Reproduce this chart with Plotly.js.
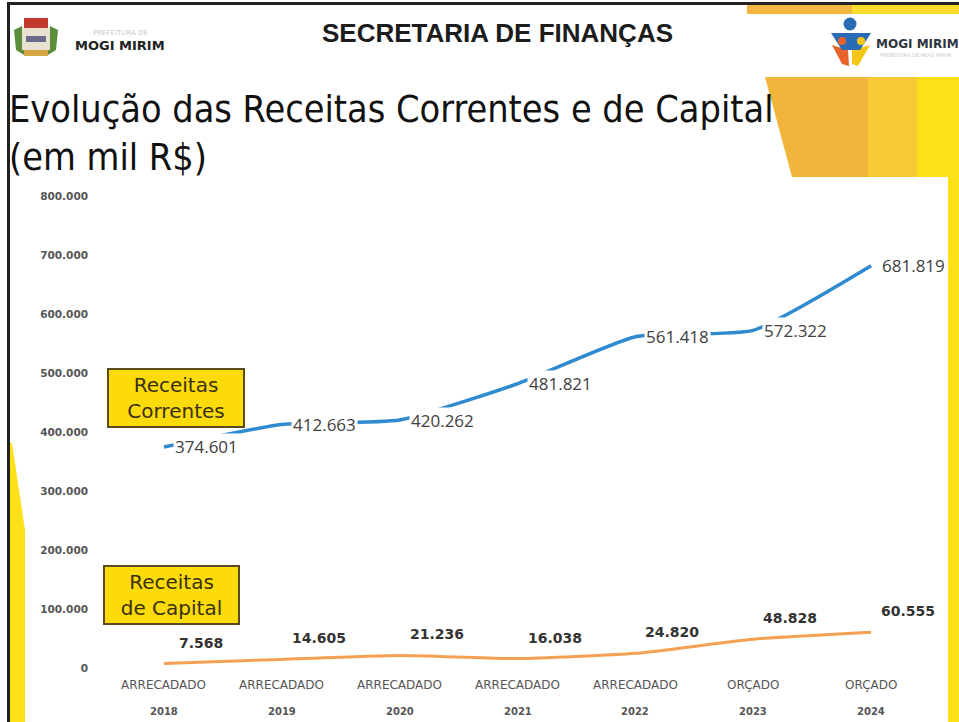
<!DOCTYPE html>
<html>
<head>
<meta charset="utf-8">
<script src="https://cdn.plot.ly/plotly-3.0.1.min.js"></script>
<style>html,body{margin:0;padding:0;background:#fff;}#chart{width:959px;height:722px;}</style>
</head>
<body>
<div id="chart"></div>
<script>
// ---- DATA ----
const categories = ['2018', '2019', '2020', '2021', '2022', '2023', '2024'];
const status = ['ARRECADADO', 'ARRECADADO', 'ARRECADADO', 'ARRECADADO', 'ARRECADADO', 'ORÇADO', 'ORÇADO'];
const receitasCorrentes = [374601, 412663, 420262, 481821, 561418, 572322, 681819];
const receitasCapital = [7568, 14605, 21236, 16038, 24820, 48828, 60555];
const yTickVals = [0, 100000, 200000, 300000, 400000, 500000, 600000, 700000, 800000];
const headerTitle = 'SECRETARIA DE FINANÇAS';
const titleLine1 = 'Evolução das Receitas Correntes e de Capital';
const titleLine2 = '(em mil R$)';
const labelCorrentes = 'Receitas<br>Correntes';
const labelCapital = 'Receitas<br>de Capital';

// ---- LAYOUT HELPERS ----
const W = 959, H = 722;
const M = {l: 105, r: 29, t: 196, b: 54};
const PW = W - M.l - M.r, PH = H - M.t - M.b;
const px = x => (x - M.l) / PW;
const py = y => (H - M.b - y) / PH;
const fmt = n => String(n).replace(/\B(?=(\d{3})+(?!\d))/g, '.');

function rect(x0, y0, x1, y1, color, layer) {
  return {type: 'rect', xref: 'paper', yref: 'paper', x0: px(x0), x1: px(x1), y0: py(y0), y1: py(y1),
    fillcolor: color, line: {width: 0}, layer: layer || 'above'};
}
function poly(pts, color) {
  const d = pts.map((p, i) => (i ? 'L' : 'M') + px(p[0]) + ',' + py(p[1])).join(' ') + ' Z';
  return {type: 'path', xref: 'paper', yref: 'paper', path: d, fillcolor: color, line: {width: 0}, layer: 'above'};
}
function circle(cx, cy, r, color) {
  return {type: 'circle', xref: 'paper', yref: 'paper', x0: px(cx - r), x1: px(cx + r), y0: py(cy + r), y1: py(cy - r),
    fillcolor: color, line: {width: 0}, layer: 'above'};
}
function txt(x, y, text, font, xanchor, extra) {
  return Object.assign({xref: 'paper', yref: 'paper', x: px(x), y: py(y), text: text, showarrow: false,
    xanchor: xanchor || 'center', yanchor: 'middle', font: font}, extra || {});
}

const shapes = [
  // frame
  rect(7, 2, 959, 5, '#222'),
  rect(7, 2, 10, 722, '#222'),
  // top bar
  rect(747, 5, 852, 14, '#f3b640'),
  rect(852, 5, 959, 14, '#f9dc2c'),
  // decorative block
  poly([[765, 77], [868, 77], [868, 177], [792, 177]], '#f2b53c'),
  rect(868, 77, 917, 177, '#f7c935'),
  rect(917, 77, 959, 177, '#fde118'),
  rect(948, 177, 959, 722, '#fde118'),
  poly([[10, 443], [12, 443], [25, 530], [25, 722], [10, 722]], '#fde118'),
  // left logo (coat of arms)
  poly([[14, 30], [22, 26], [26, 56], [16, 50]], '#5d8c3a'),
  poly([[58, 30], [50, 26], [46, 56], [56, 50]], '#5d8c3a'),
  rect(24, 18, 48, 28, '#c0392b'),
  rect(22, 28, 50, 50, '#e9e1cf'),
  rect(26, 36, 46, 42, '#6a6a8a'),
  rect(24, 50, 48, 56, '#d2a640'),
  // right logo
  poly([[832, 45], [848, 50], [849, 66], [842, 64]], '#e8632b'),
  poly([[852, 50], [870, 45], [858, 66], [852, 64]], '#f5c518'),
  poly([[831, 33], [871, 33], [860, 50], [842, 50]], '#2a6bb5'),
  circle(850, 24, 6.5, '#2a6bb5'),
  circle(842, 41, 4, '#e8632b'),
  circle(861, 41, 4, '#f5c518')
];

const annotations = [
  txt(497, 33, '<b>' + headerTitle + '</b>', {family: 'Liberation Sans, Arial', size: 26, color: '#1c1c1c'}),
  txt(7, 109, titleLine1, {family: 'DejaVu Sans Condensed, DejaVu Sans', size: 37.5, color: '#111'}, 'left'),
  txt(7, 157, titleLine2, {family: 'DejaVu Sans Condensed, DejaVu Sans', size: 37.5, color: '#111'}, 'left'),
  txt(120, 45, '<b>MOGI MIRIM</b>', {family: 'DejaVu Sans', size: 13, color: '#222'}),
  txt(120, 33, 'PREFEITURA DE', {family: 'DejaVu Sans', size: 7, color: '#c8c8c8'}),
  txt(874, 44, '<b>MOGI MIRIM</b>', {family: 'DejaVu Sans', size: 12, color: '#2d3540'}, 'left'),
  txt(915, 55, 'PREFEITURA DE MOGI MIRIM', {family: 'DejaVu Sans', size: 5, color: '#c8c8c8'}),
  // series label boxes
  txt(176, 398, labelCorrentes, {family: 'DejaVu Sans', size: 20, color: '#3b2f12'}, 'center',
    {bgcolor: '#fcdb08', bordercolor: '#5b4a1c', borderwidth: 2, borderpad: 0, width: 134, height: 56}),
  txt(171.5, 595, labelCapital, {family: 'DejaVu Sans', size: 20, color: '#3b2f12'}, 'center',
    {bgcolor: '#fcdb08', bordercolor: '#5b4a1c', borderwidth: 2, borderpad: 0, width: 133, height: 56})
];

// category labels (two rows) — category axes take serial index positions
categories.forEach((c, i) => {
  annotations.push({xref: 'x', yref: 'paper', x: i, y: py(685), text: status[i], showarrow: false,
    xanchor: 'center', yanchor: 'middle', font: {family: 'DejaVu Sans', size: 12, color: '#555'}});
  annotations.push({xref: 'x', yref: 'paper', x: i, y: py(711), text: '<b>' + c + '</b>', showarrow: false,
    xanchor: 'center', yanchor: 'middle', font: {family: 'DejaVu Sans', size: 10, color: '#555'}});
});
// data labels
categories.forEach((c, i) => {
  annotations.push({xref: 'x', yref: 'y', x: i, y: receitasCorrentes[i], text: fmt(receitasCorrentes[i]),
    showarrow: false, xanchor: 'left', yanchor: 'middle', xshift: 9, bgcolor: '#ffffff', borderpad: 1,
    font: {family: 'Open Sans', size: 17, color: '#404040'}});
  annotations.push({xref: 'x', yref: 'y', x: i, y: receitasCapital[i], text: '<b>' + fmt(receitasCapital[i]) + '</b>',
    showarrow: false, xanchor: 'center', yanchor: 'middle', xshift: 37, yshift: 21, bgcolor: '#ffffff',
    font: {family: 'DejaVu Sans', size: 14, color: '#333'}});
});

const traces = [
  {x: categories, y: receitasCorrentes, type: 'scatter', mode: 'lines', name: 'Receitas Correntes',
    line: {color: '#2f8bd0', width: 3.5, shape: 'spline', smoothing: 0.5}},
  {x: categories, y: receitasCapital, type: 'scatter', mode: 'lines', name: 'Receitas de Capital',
    line: {color: '#f5a052', width: 3, shape: 'spline', smoothing: 0.5}}
];

const layout = {
  width: W, height: H,
  margin: M,
  paper_bgcolor: '#ffffff', plot_bgcolor: 'rgba(0,0,0,0)',
  showlegend: false, hovermode: false,
  separators: ',.',
  xaxis: {type: 'category', categoryorder: 'array', categoryarray: categories, range: [-0.5, 6.5],
    showgrid: false, zeroline: false, showline: false, showticklabels: false, ticks: ''},
  yaxis: {range: [0, 800000], tickvals: yTickVals, tickformat: ',.0f', showgrid: false, zeroline: false,
    showline: false, ticks: '', ticklabelstandoff: 16,
    tickfont: {family: 'DejaVu Sans', size: 10.5, color: '#555', weight: 'bold'}},
  shapes: shapes,
  annotations: annotations
};

Plotly.newPlot('chart', traces, layout, {displayModeBar: false, staticPlot: true});
</script>
</body>
</html>
